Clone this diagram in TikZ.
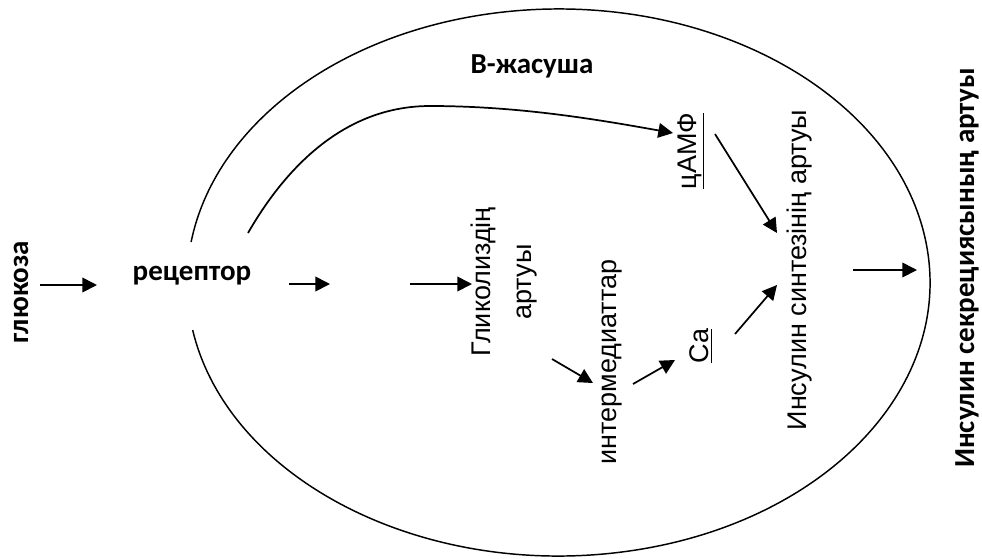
\documentclass[tikz,border=0pt]{standalone}
\usepackage{fontspec}
\setmainfont{Liberation Sans}
\newfontfamily\carlito{Carlito}
\usetikzlibrary{arrows.meta, calc}
\tikzset{
  every picture/.style={line width=1.1pt},
  txt/.style={inner sep=0pt, font=\fontsize{20.25}{30.75}\selectfont},
  btxt/.style={inner sep=0pt, font=\carlito\bfseries\fontsize{21.75}{26}\selectfont},
  vert/.style={rotate=90},
  arrow/.style={-{Triangle[length=11pt, width=11pt]}, line width=1.3pt},
}

\begin{document}
\begin{tikzpicture}[x=0.75pt, y=-0.75pt]
  \useasboundingbox (0,0) rectangle (982,558);
  % cell outline, open at the receptor
  \coordinate (cellc) at (558.5,282.5);
  \draw (cellc) ++(170:371.5 and 273.5)
    arc[start angle=170, end angle=-171.5, x radius=371.5, y radius=273.5];
  \node[btxt] (cell) at (532,66) {В-жасуша};
  % outside / membrane
  \node[btxt, vert] (glu) at (21,292) {глюкоза};
  \node[btxt] (rec) at (192,276) {рецептор};
  \node[btxt, vert] (sec) at (967,268) {Инсулин секрециясының артуы};
  % inside the cell
  \node[txt, vert, align=center] (gly) at (504,282) {Гликолиздің\\артуы};
  \node[txt, vert] (inter) at (612,362) {интермедиаттар};
  \node[txt, vert] (camp) at (691,151) {\underline{цАМФ}};
  \node[txt, vert] (ca) at (701,346) {\underline{Ca}};
  \node[txt, vert] (syn) at (800,270) {Инсулин синтезінің артуы};
  \coordinate (gapL) at (330,284);
  \coordinate (gapR) at (410,284);
  % pathway
  \draw[arrow] ($(glu.center)+(19,-7)$) -- ($(rec.center)+(-95,9)$);
  \draw[arrow] ($(rec.center)+(97,8)$) -- (gapL);
  \draw[arrow] (gapR) -- ($(gly.center)+(-32,2)$);
  \draw[arrow] ($(gly.center)+(48,77)$) -- ($(inter.center)+(-19,21)$);
  \draw[arrow] ($(inter.center)+(21,22)$) -- ($(ca.center)+(-26,14)$);
  \draw[arrow] ($(ca.center)+(34,-12)$) -- ($(syn.center)+(-23,15)$);
  \draw[arrow] ($(camp.center)+(24,-17)$) -- ($(syn.center)+(-23,-37)$);
  \draw[arrow] ($(syn.center)+(53,0)$) -- ($(sec.center)+(-50,2)$);
  \draw[arrow] ($(rec.center)+(56,-43)$) .. controls +(42,-73) and +(-80,0) .. ++(182,-127)
    .. controls +(90,0) and +(-73,-13) .. ($(camp.center)+(-18,-18)$);
\end{tikzpicture}
\end{document}
